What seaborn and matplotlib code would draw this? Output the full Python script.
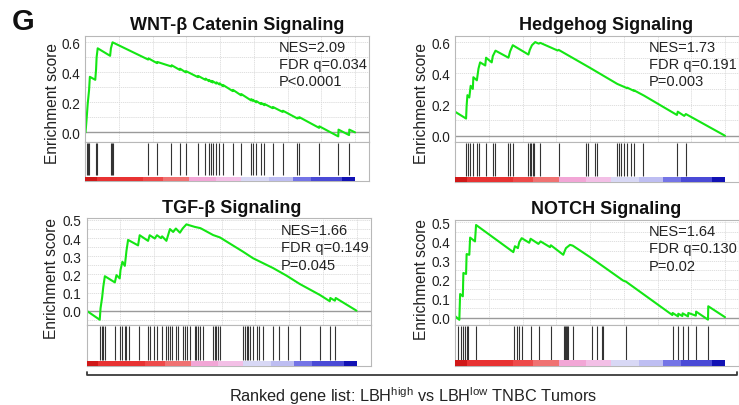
import matplotlib
matplotlib.use("Agg")
import numpy as np
import matplotlib.pyplot as plt
from matplotlib.colors import ListedColormap
from matplotlib.lines import Line2D
from matplotlib.ticker import MultipleLocator
import seaborn as sns

# ---- data (x = position in ranked list, % of list) ----
titles = ["WNT-\u03b2 Catenin Signaling", "Hedgehog Signaling",
          "TGF-\u03b2 Signaling", "NOTCH Signaling"]
stats = [["NES=2.09", "FDR q=0.034", "P<0.0001"],
         ["NES=1.73", "FDR q=0.191", "P=0.003"],
         ["NES=1.66", "FDR q=0.149", "P=0.045"],
         ["NES=1.64", "FDR q=0.130", "P=0.02"]]

wnt_hits = [0.6, 1.0, 1.5, 4.1, 4.3, 9.5, 9.9, 10.2, 23.4, 26.7, 32.0, 35.1, 37.3,
            41.8, 44.6, 45.9, 46.8, 47.3, 48.6, 49.8, 51.0, 54.7, 57.8, 61.5, 62.1,
            63.4, 65.2, 66.4, 69.5, 73.2, 78.7, 79.3, 86.7, 93.8, 97.8]
wnt_es_x = [0.2, 0.6, 1.0, 1.5, 1.8, 3.8, 4.1, 4.3, 4.7, 9.3, 9.6, 10.2,
            23.4, 23.5, 26.7, 26.8, 32.0, 32.1, 35.1, 35.2, 37.3, 37.4, 41.8, 41.9,
            44.6, 44.7, 45.9, 46.0, 46.8, 46.9, 47.3, 47.4, 48.6, 48.7, 49.8, 49.9,
            51.0, 51.1, 54.7, 54.8, 57.8, 57.9, 61.5, 61.6, 62.1, 62.2, 63.4, 63.5,
            65.2, 65.3, 66.4, 66.5, 69.5, 69.6, 73.2, 73.3, 78.7, 78.8, 79.3, 79.4,
            86.7, 86.8, 93.8, 93.9, 97.8, 97.9, 100.0]
wnt_es_y = [0.0, 0.09, 0.19, 0.28, 0.37, 0.35, 0.42, 0.50, 0.56, 0.51, 0.56, 0.60,
            0.485, 0.493, 0.461, 0.469, 0.439, 0.447, 0.416, 0.424, 0.400, 0.408, 0.368, 0.376,
            0.350, 0.358, 0.341, 0.349, 0.335, 0.343, 0.332, 0.340, 0.325, 0.333, 0.319, 0.327,
            0.308, 0.316, 0.275, 0.283, 0.247, 0.255, 0.213, 0.221, 0.210, 0.217, 0.200, 0.208,
            0.188, 0.196, 0.181, 0.189, 0.161, 0.169, 0.136, 0.144, 0.092, 0.098, 0.094, 0.101,
            0.030, 0.040, -0.027, 0.018, -0.018, 0.018, 0.0]

hh_hits = [4.1, 4.9, 5.6, 6.6, 8.3, 9.0, 11.5, 14.0, 14.9, 19.8, 20.4, 21.4, 27.0,
           27.6, 28.1, 28.9, 29.4, 31.6, 38.4, 48.7, 49.4, 51.7, 52.7, 59.9, 60.6,
           61.6, 62.6, 63.8, 65.0, 66.2, 69.6, 82.4, 85.5]
hh_es_x = [0.0, 4.1, 4.3, 4.6, 5.3, 5.8, 6.6, 6.8, 8.1, 8.7, 9.3, 11.2, 11.5, 13.6,
           14.0, 15.0, 19.8, 20.4, 21.4, 27.2, 27.7, 28.5, 29.7, 31.0, 31.6, 38.0, 38.4,
           50.2, 60.1, 63.7, 63.8, 66.2, 66.3, 70.0, 82.2, 82.5, 84.9, 85.5, 100.0]
hh_es_y = [0.154, 0.11, 0.19, 0.26, 0.245, 0.32, 0.30, 0.375, 0.355, 0.43, 0.47, 0.45,
           0.50, 0.47, 0.51, 0.545, 0.50, 0.54, 0.58, 0.52, 0.55, 0.58, 0.60, 0.59, 0.595,
           0.546, 0.55, 0.433, 0.332, 0.305, 0.308, 0.288, 0.291, 0.257, 0.133, 0.154,
           0.127, 0.139, 0.0]

tgf_hits = [4.9, 5.6, 6.1, 6.8, 10.5, 12.3, 13.0, 14.2, 14.8, 15.8, 19.5, 22.8, 23.4,
            24.9, 26.1, 27.8, 29.6, 30.2, 30.9, 31.5, 33.1, 33.9, 35.6, 36.4, 37.3, 38.3,
            40.1, 40.7, 41.3, 42.2, 43.2, 46.9, 47.5, 48.1, 48.7, 49.4, 58.0, 58.6, 59.3,
            59.9, 60.7, 61.7, 63.0, 63.9, 65.4, 69.1, 71.3, 74.7, 79.0, 86.4, 90.1, 92.0]
tgf_es_x = [0.0, 4.9, 5.2, 5.8, 6.2, 6.8, 10.5, 11.1, 12.3, 12.6, 13.3, 14.2, 14.8,
            15.4, 19.1, 19.7, 22.8, 23.4, 25.3, 26.1, 27.6, 28.0, 29.6, 30.9, 32.1, 33.1,
            34.6, 35.6, 37.0, 38.3, 40.1, 42.2, 43.2, 46.9, 49.4, 58.0, 61.7, 65.4, 69.1,
            74.1, 79.0, 86.4, 90.1, 90.3, 92.0, 92.3, 100.0]
tgf_es_y = [0.0, -0.05, 0.013, 0.074, 0.13, 0.19, 0.156, 0.196, 0.178, 0.225, 0.27,
            0.247, 0.33, 0.39, 0.36, 0.416, 0.385, 0.416, 0.398, 0.416, 0.40, 0.41, 0.385,
            0.45, 0.434, 0.453, 0.43, 0.453, 0.476, 0.470, 0.462, 0.455, 0.447, 0.417,
            0.404, 0.325, 0.289, 0.262, 0.235, 0.193, 0.147, 0.087, 0.052, 0.07, 0.055,
            0.07, 0.0]

notch_hits = [1.2, 2.1, 2.9, 3.7, 4.3, 4.9, 7.8, 21.9, 22.8, 23.8, 24.7, 28.0, 31.2,
              35.4, 40.4, 40.7, 41.1, 41.6, 42.0, 43.6, 50.6, 52.5, 54.3, 54.9, 63.3,
              80.6, 82.7, 84.3, 86.4, 89.3, 93.8]
notch_es_x = [0.0, 1.6, 1.9, 2.9, 3.1, 4.1, 4.3, 5.3, 5.6, 7.4, 7.8, 21.6, 22.2, 23.3,
              23.8, 24.7, 27.5, 28.0, 30.9, 31.7, 35.2, 35.5, 40.1, 40.7, 41.1, 42.6, 43.6,
              50.0, 62.3, 63.3, 80.5, 80.6, 82.6, 82.7, 84.2, 84.3, 86.3, 86.4, 89.2, 89.3,
              93.7, 93.8, 100.0]
notch_es_y = [0.01, -0.01, 0.125, 0.113, 0.235, 0.23, 0.334, 0.33, 0.42, 0.40, 0.486,
              0.344, 0.375, 0.365, 0.396, 0.417, 0.393, 0.414, 0.387, 0.40, 0.37, 0.38,
              0.33, 0.352, 0.365, 0.382, 0.378, 0.318, 0.195, 0.19, 0.015, 0.026, 0.008,
              0.022, 0.01, 0.024, 0.008, 0.026, 0.012, 0.033, -0.009, 0.061, 0.004]

# ranked-list metric colour bar (bin edges in % of list)
metric_bins = [0, 4.3, 21.5, 28.9, 38.7, 48.6, 57.8, 68.3, 76.9, 83.6, 95.3, 100]
metric_colors = ["#D01818", "#E83232", "#EE4A4A", "#F07272", "#F2A6D6", "#F3BFE6",
                 "#D8D8F5", "#BEBEF2", "#7474E6", "#4A4AD6", "#1212B4"]

hits = [wnt_hits, hh_hits, tgf_hits, notch_hits]
es_x = [wnt_es_x, hh_es_x, tgf_es_x, notch_es_x]
es_y = [wnt_es_y, hh_es_y, tgf_es_y, notch_es_y]

# ---- layout (pixel positions in a 739x406 canvas) ----
W, H = 739, 406
PX = 2.70  # pixels per % of list
layout = [
    dict(left=85, es_top=37, es_bot=142.5, bar_bot=182, cb_top=177.5,
         ylim=(-0.061, 0.642), ystep=0.2, title=(237, 25), ylab=(53, 103), txt=(279, 47.5)),
    dict(left=455, es_top=37, es_bot=142.5, bar_bot=182.5, cb_top=178,
         ylim=(-0.037, 0.639), ystep=0.2, title=(606, 25), ylab=(422, 103), txt=(649, 47.5)),
    dict(left=86.5, es_top=219, es_bot=326, bar_bot=367, cb_top=361.5,
         ylim=(-0.079, 0.511), ystep=0.1, title=(232, 209), ylab=(52, 279), txt=(281, 231)),
    dict(left=455, es_top=221, es_bot=326, bar_bot=367, cb_top=361,
         ylim=(-0.037, 0.512), ystep=0.1, title=(606, 210), ylab=(422, 280), txt=(649, 232)),
]


def rect(l, t, r, b):
    return [l / W, 1 - b / H, (r - l) / W, (b - t) / H]


def fx(x, y):
    return x / W, 1 - y / H


sns.set_style("white")
plt.rcParams["font.family"] = ["Liberation Sans", "DejaVu Sans"]
plt.rcParams["mathtext.fontset"] = "custom"
plt.rcParams["mathtext.rm"] = "Liberation Sans"

fig = plt.figure(figsize=(W / 100, H / 100), dpi=100)
green = "#14E614"
frame = "#B8B8B8"
grid = "#DADADA"
xmax = 105.2

for i, L in enumerate(layout):
    right = L["left"] + xmax * PX
    ax = fig.add_axes(rect(L["left"], L["es_top"], right, L["es_bot"]))
    sns.lineplot(x=es_x[i], y=es_y[i], ax=ax, color=green, lw=1.5,
                 estimator=None, sort=False)
    ax.set_xlim(0, xmax)
    ax.set_ylim(*L["ylim"])
    ax.xaxis.set_major_locator(MultipleLocator(12.5))
    ax.yaxis.set_major_locator(MultipleLocator(L["ystep"]))
    ax.yaxis.set_minor_locator(MultipleLocator(L["ystep"] / 2))
    ax.grid(True, which="both", color=grid, lw=0.6, ls=(0, (1.5, 1)))
    ax.axhline(0, color="#9A9A9A", lw=1.0, zorder=1)
    ax.set_xticklabels([])
    ax.tick_params(axis="x", length=0)
    ax.tick_params(axis="y", which="major", length=2, pad=1.5, labelsize=9.8,
                   colors="#222222", width=0.6)
    ax.tick_params(axis="y", which="minor", length=0)
    ax.set_yticklabels([f"{v:.1f}" if abs(v) > 1e-9 else "0.0" for v in ax.get_yticks()])
    ax.set_ylim(*L["ylim"])
    ax.set_xlabel("")
    ax.set_ylabel("")
    for s in ax.spines.values():
        s.set_color(frame)
        s.set_linewidth(0.8)

    # barcode of gene-set members
    bx = fig.add_axes(rect(L["left"], L["es_bot"], right, L["bar_bot"]))
    bx.vlines(hits[i], 0.14, 0.97, color="#333333", lw=0.8)
    bx.set_xlim(0, xmax)
    bx.set_ylim(0, 1)
    bx.set_xticks([])
    bx.set_yticks([])
    for s in bx.spines.values():
        s.set_color(frame)
        s.set_linewidth(0.8)

    # ranked-list metric colour bar
    cx = fig.add_axes(rect(L["left"], L["cb_top"], L["left"] + 100 * PX, L["bar_bot"]))
    cx.pcolormesh(metric_bins, [0, 1], np.arange(len(metric_colors))[None, :],
                  cmap=ListedColormap(metric_colors), shading="flat")
    cx.set_xlim(0, 100)
    cx.axis("off")

    fig.text(*fx(*L["title"]), titles[i], ha="center", va="center",
             fontsize=13, fontweight="bold", color="#111111")
    fig.text(*fx(*L["ylab"]), "Enrichment score", rotation=90, ha="center",
             va="center", fontsize=11.2, color="#222222")
    tx, ty = L["txt"]
    for k, line in enumerate(stats[i]):
        fig.text(*fx(tx, ty + k * 17.5), line, ha="left", va="center",
                 fontsize=10.5, color="#222222")

fig.text(*fx(23, 22), "G", ha="center", va="center", fontsize=21,
         fontweight="bold", color="#111111")

# bracket under the bottom row
bracket_x = [87 / W, 87 / W, 737 / W, 737 / W]
bracket_y = [1 - 372.5 / H, 1 - 375.8 / H, 1 - 375.8 / H, 1 - 372.5 / H]
fig.add_artist(Line2D(bracket_x, bracket_y, transform=fig.transFigure,
                      color="#3A3A3A", lw=1.3))
fig.text(*fx(413, 396), r"Ranked gene list: LBH$^{\mathrm{high}}$ vs LBH$^{\mathrm{low}}$ TNBC Tumors",
         ha="center", va="center", fontsize=11.7, color="#222222")

fig.savefig("out.png", dpi=100)
